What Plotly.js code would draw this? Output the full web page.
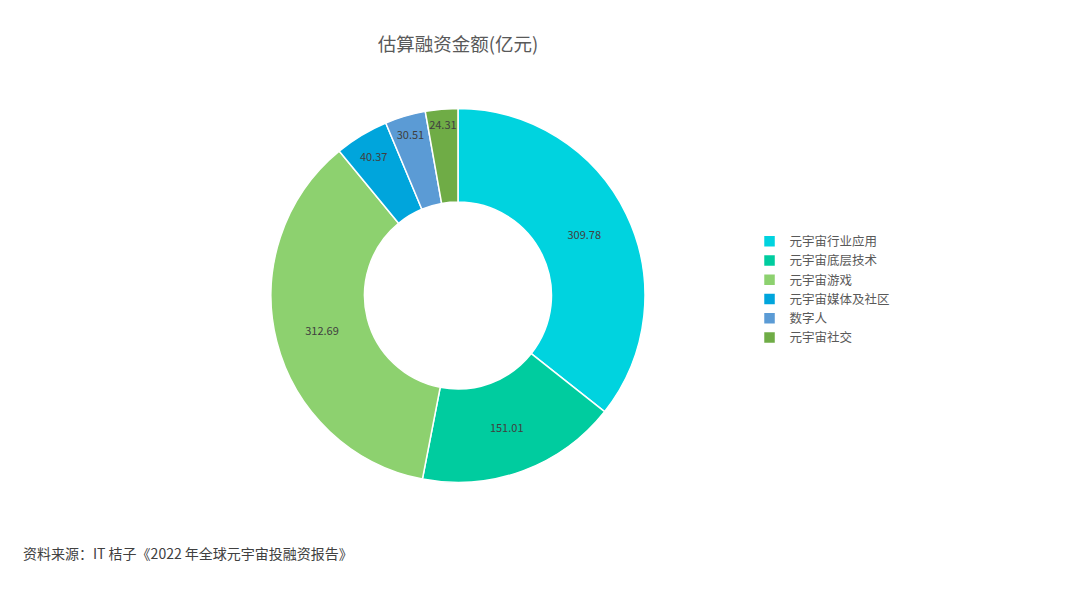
<!DOCTYPE html>
<html>
<head>
<meta charset="utf-8">
<script src="https://cdn.plot.ly/plotly-3.0.1.min.js"></script>
<style>
  html, body { margin: 0; padding: 0; background: #ffffff; }
  #chart { width: 1080px; height: 598px; }
</style>
</head>
<body>
<div id="chart"></div>
<script>
    'use strict';

    // Segment names and estimated funding (100M CNY)
    const sectors = ['元宇宙行业应用', '元宇宙底层技术', '元宇宙游戏', '元宇宙媒体及社区', '数字人', '元宇宙社交'];
    const funding = [309.78, 151.01, 312.69, 40.37, 30.51, 24.31];
    const sliceColors = ['#00d3df', '#00cc9f', '#8dd16f', '#00a5dc', '#5b9bd5', '#6fac46'];

    const FONT = '"Noto Sans CJK SC", "Noto Sans", sans-serif';

    const trace = {
        type: 'pie',
        labels: sectors,
        values: funding,
        hole: 0.5,
        sort: false,
        direction: 'clockwise',
        rotation: 0,
        marker: { colors: sliceColors, line: { color: '#ffffff', width: 1.5 } },
        textinfo: 'value',
        texttemplate: '%{value:.2f}',
        textposition: 'inside',
        insidetextorientation: 'horizontal',
        textfont: { family: FONT, size: 11, color: '#404040' },
        domain: { x: [0.2509, 0.5972], y: [0.1923, 0.8194] },
        hoverinfo: 'label+value'
    };

    const layout = {
        width: 1080,
        height: 598,
        paper_bgcolor: '#ffffff',
        margin: { t: 0, r: 0, b: 0, l: 0 },
        font: { family: FONT, color: '#595959' },
        title: {
            text: '估算融资金额(亿元)',
            font: { family: FONT, size: 18.5, color: '#595959' },
            x: 0.424, xanchor: 'center',
            y: 0.926, yanchor: 'middle'
        },
        showlegend: true,
        legend: {
            x: 0.694, xanchor: 'left',
            y: 0.621, yanchor: 'top',
            font: { family: FONT, size: 12.5, color: '#595959' },
            itemwidth: 30,
            tracegroupgap: 0
        },
        uniformtext: { mode: 'show', minsize: 11 },
        annotations: [{
            text: '资料来源：IT 桔子《2022 年全球元宇宙投融资报告》',
            xref: 'paper', yref: 'paper',
            x: 0.019, xanchor: 'left',
            y: 0.075, yanchor: 'middle',
            showarrow: false,
            font: { family: FONT, size: 14, color: '#404040' }
        }]
    };

    Plotly.newPlot('chart', [trace], layout, { displayModeBar: false, staticPlot: true });
</script>
</body>
</html>
